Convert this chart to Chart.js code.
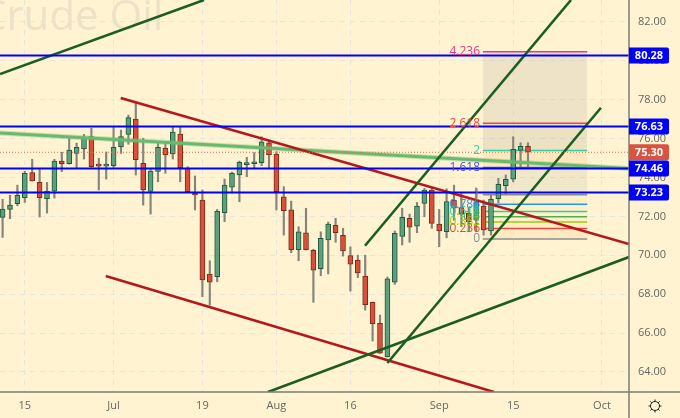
<!DOCTYPE html>
<html lang="en">
  <head>
    <meta charset="UTF-8" />
    <title>Crude Oil</title>
    <script src="https://cdn.jsdelivr.net/npm/chart.js"></script>
    <style>
      body { margin: 0; background: #fff3d1; }
      canvas { display: block; }
    </style>
  </head>
  <body>
    <canvas id="chart" width="680" height="418"></canvas>

    <script>
      const opens = [71.95,72.36,72.65,72.96,74.25,73.75,72.91,73.30,74.85,74.71,75.24,75.47,76.10,74.63,74.59,74.61,75.58,76.22,77.01,74.73,73.29,74.32,75.50,75.21,76.24,74.47,73.14,72.84,69.04,68.90,72.19,73.50,74.13,74.66,74.71,74.76,75.79,75.21,73.01,72.34,70.29,71.16,70.25,69.31,70.79,71.54,71.03,69.99,69.74,68.93,67.58,66.50,64.78,68.62,70.97,71.90,71.50,72.67,73.36,71.61,71.21,72.84,72.45,72.16,71.81,72.53,71.26,72.91,73.58,73.91,75.40,75.60];
      const closes = [72.38,72.58,73.09,74.22,73.83,72.96,73.30,74.85,74.71,75.41,75.55,76.07,74.56,74.59,74.63,75.55,76.10,77.08,74.92,73.36,74.33,75.55,75.16,76.34,74.50,73.27,73.10,68.73,68.62,72.26,73.61,74.22,74.78,74.69,74.75,75.84,75.16,73.27,72.29,70.29,71.21,70.29,69.23,70.87,71.61,71.16,70.23,69.55,69.10,67.46,66.48,64.97,68.79,71.13,71.95,71.45,72.53,73.36,71.64,71.26,72.76,72.42,72.11,71.73,72.75,71.30,72.88,73.65,73.91,75.45,75.60,75.30];
      const highs = [72.88,73.09,73.61,74.32,74.94,74.42,73.75,74.94,75.30,76.03,75.77,76.22,76.53,74.99,75.31,76.61,76.44,77.21,77.83,76.02,74.42,75.76,75.76,76.61,76.61,74.56,74.08,73.36,69.72,72.36,73.92,74.28,74.85,75.04,75.28,76.10,75.93,75.33,73.53,72.79,71.47,72.42,70.31,71.21,71.71,71.90,71.39,70.44,70.01,70.01,67.60,66.93,68.88,71.25,72.42,72.12,72.72,73.44,73.46,72.36,73.42,73.61,73.20,72.43,73.46,72.84,73.10,73.96,74.13,76.10,75.79,75.79];
      const lows = [70.92,71.88,72.55,72.72,73.82,71.97,72.17,72.94,74.30,74.69,74.47,74.95,74.52,73.36,73.92,74.52,75.24,75.71,74.13,72.58,72.12,73.78,74.22,74.95,73.78,73.25,72.33,67.87,67.44,68.64,71.73,73.20,72.75,74.04,74.47,74.61,74.47,72.33,71.04,70.13,69.72,70.27,67.58,68.95,69.04,70.67,69.96,68.16,68.85,67.18,65.59,64.95,64.77,68.51,70.53,70.67,71.16,71.98,71.39,70.44,70.90,71.81,71.47,71.21,71.21,71.04,71.04,72.70,73.15,73.78,74.56,74.56];

      const xTickBars = [3, 15, 27, 37, 47, 59, 69, 81];
      const xTickNames = ["15", "Jul", "19", "Aug", "16", "Sep", "15", "Oct"];
      const yTicks = [64, 66, 68, 70, 72, 74, 76, 78, 80, 82];

      const levels = [80.28, 76.63, 74.46, 73.23];
      const lastPrice = 75.30;

      // trend lines: [bar, price] at each end
      const darkGreen = [
        [[-0.351, 79.32], [27.22, 83.13]],
        [[48.97, 70.49], [76.81, 83.13]],
        [[52, 64.46], [80.86, 77.59]],
        [[35.86, 62.97], [84.65, 69.91]],
      ];
      const darkRed = [
        [[15.96, 78.09], [84.65, 70.58]],
        [[13.93, 68.93], [66.4, 62.97]],
      ];
      const lightGreen = [[-0.351, 76.29], [84.65, 74.46]];

      // fibonacci tool
      const fibBars = [64.9, 79];
      const fibNames = ["0", "0.236", "0.382", "0.5", "0.618", "0.786", "1", "1.618", "2", "2.618", "4.236"];
      const fibPrices = [70.84, 71.38, 71.71, 71.98, 72.25, 72.63, 73.11, 74.52, 75.39, 76.79, 80.47];
      const fibColors = ["#8a8c90", "#e8483f", "#9ccc10", "#4caf50", "#2ecfa0", "#2196f3", "#8a8c90", "#4a55d8", "#2ed3a5", "#e8483f", "#e5398a"];
      const fibFills = [
        "rgba(255,160,60,0.10)", "rgba(255,160,60,0.06)", "rgba(255,160,60,0.04)", "rgba(255,160,60,0.04)", "rgba(255,160,60,0.04)",
        "rgba(255,160,60,0.04)", "rgba(120,123,134,0.10)", "rgba(255,150,60,0.12)", "rgba(120,130,100,0.14)", "rgba(120,123,134,0.13)",
      ];

      const up = (i) => closes[i] >= opens[i];
      const toPoints = (pair) => pair.map((p) => ({ x: p[0], y: p[1] }));

      function line(points, color, width, order, dash) {
        return {
          type: "line",
          data: points,
          borderColor: color,
          borderWidth: width,
          borderDash: dash || [],
          pointRadius: 0,
          tension: 0,
          fill: false,
          order: order,
        };
      }

      const datasets = [];

      fibPrices.forEach((price, k) => {
        const ds = line(fibBars.map((b) => ({ x: b, y: price })), fibColors[k], 1.5, 10);
        if (k > 0) {
          ds.fill = { value: fibPrices[k - 1] };
          ds.backgroundColor = fibFills[k - 1];
        }
        datasets.push(ds);
      });

      datasets.push({
        type: "bar",
        data: opens.map((o, i) => ({ x: i, y: [lows[i], highs[i]] })),
        backgroundColor: "#85857c",
        barThickness: 1.5,
        grouped: false,
        order: 6,
      });
      datasets.push({
        type: "bar",
        data: opens.map((o, i) => ({ x: i, y: [o, closes[i]] })),
        backgroundColor: opens.map((o, i) => (up(i) ? "#5e9f7e" : "#d9503a")),
        borderColor: opens.map((o, i) => (up(i) ? "#1f5a3c" : "#7c2a1c")),
        borderWidth: 1,
        borderSkipped: false,
        barThickness: 5,
        minBarLength: 2,
        grouped: false,
        order: 5,
      });

      datasets.push(line(toPoints(lightGreen), "rgba(102,187,106,0.35)", 5, 4));
      datasets.push(line(toPoints(lightGreen), "#6abb6e", 3, 4));
      darkRed.forEach((l) => datasets.push(line(toPoints(l), "#b3191c", 2.6, 3)));
      darkGreen.forEach((l) => datasets.push(line(toPoints(l), "#1b5e20", 2.6, 2)));
      datasets.push(line([{ x: -0.351, y: lastPrice }, { x: 84.65, y: lastPrice }], "#ec6a55", 1, 1, [1, 2]));
      levels.forEach((v) => datasets.push(line([{ x: -0.351, y: v }, { x: 84.65, y: v }], "#0000ff", 2, 0)));

      const watermark = {
        id: "watermark",
        beforeDatasetsDraw(chart) {
          const ctx = chart.ctx;
          ctx.save();
          ctx.font = '42px "Open Sans", sans-serif';
          ctx.fillStyle = "#ebe2c8";
          ctx.textBaseline = "alphabetic";
          ctx.fillText("Crude Oil", -20, 30);
          ctx.restore();
        },
      };

      const overlay = {
        id: "overlay",
        afterDatasetsDraw(chart) {
          const ctx = chart.ctx;
          const y = chart.scales.y;
          const area = chart.chartArea;
          ctx.save();

          ctx.textAlign = "right";
          ctx.textBaseline = "middle";
          ctx.font = '12px "Open Sans", sans-serif';
          fibNames.forEach((name, k) => {
            ctx.fillStyle = fibColors[k];
            ctx.fillText(name, 480, y.getPixelForValue(fibPrices[k]));
          });

          ctx.strokeStyle = "#7c7d70";
          ctx.lineWidth = 1.5;
          ctx.beginPath();
          ctx.moveTo(area.right, 0);
          ctx.lineTo(area.right, chart.height);
          ctx.moveTo(0, area.bottom);
          ctx.lineTo(chart.width, area.bottom);
          ctx.stroke();

          function tag(value, color) {
            const py = y.getPixelForValue(value);
            ctx.fillStyle = color;
            ctx.beginPath();
            ctx.roundRect(area.right, py - 8, 40, 16, [0, 2, 2, 0]);
            ctx.fill();
            ctx.fillStyle = "#ffffff";
            ctx.textAlign = "center";
            ctx.font = 'bold 11px "Open Sans", sans-serif';
            ctx.fillText(value.toFixed(2), area.right + 20, py + 0.5);
          }
          tag(levels[0], "#0000ff");
          tag(levels[1], "#0000ff");
          tag(lastPrice, "#d9533f");
          tag(levels[2], "#0000ff");
          tag(levels[3], "#0000ff");

          // settings icon
          const cx = 655, cy = 406;
          ctx.strokeStyle = "#222222";
          ctx.lineWidth = 1;
          ctx.beginPath();
          ctx.arc(cx, cy, 4.5, 0, Math.PI * 2);
          for (let a = 0; a < 8; a++) {
            const t = (a * Math.PI) / 4;
            ctx.moveTo(cx + Math.cos(t) * 4.5, cy + Math.sin(t) * 4.5);
            ctx.lineTo(cx + Math.cos(t) * 6.5, cy + Math.sin(t) * 6.5);
          }
          ctx.stroke();
          ctx.restore();
        },
      };

      function noPadding(scale) {
        scale.paddingLeft = 0;
        scale.paddingRight = 0;
        scale.paddingTop = 0;
        scale.paddingBottom = 0;
      }

      new Chart(document.getElementById("chart"), {
        data: { datasets: datasets },
        plugins: [watermark, overlay],
        options: {
          responsive: false,
          animation: false,
          layout: { padding: 0 },
          plugins: {
            legend: { display: false },
            tooltip: { enabled: false },
          },
          scales: {
            x: {
              type: "linear",
              offset: false,
              min: -0.351,
              max: 84.65,
              afterBuildTicks(scale) {
                scale.ticks = xTickBars.map((v) => ({ value: v }));
              },
              afterFit(scale) {
                scale.height = 26;
                noPadding(scale);
              },
              border: { display: false, dash: [5, 5] },
              grid: { color: "#e6e4dc", offset: false, drawTicks: false },
              ticks: {
                autoSkip: false,
                maxRotation: 0,
                padding: 7,
                color: "#666660",
                font: { family: '"Open Sans", sans-serif', size: 11 },
                callback: (value) => xTickNames[xTickBars.indexOf(value)],
              },
            },
            y: {
              position: "right",
              min: 62.97,
              max: 83.13,
              afterBuildTicks(scale) {
                scale.ticks = yTicks.map((v) => ({ value: v }));
              },
              afterFit(scale) {
                scale.width = 51;
                noPadding(scale);
              },
              border: { display: false, dash: [5, 5] },
              grid: { color: "#e6e4dc", drawTicks: false },
              ticks: {
                padding: 9,
                color: "#666660",
                font: { family: '"Open Sans", sans-serif', size: 11 },
                callback: (value) => value.toFixed(2),
              },
            },
          },
        },
      });
    </script>
  </body>
</html>
